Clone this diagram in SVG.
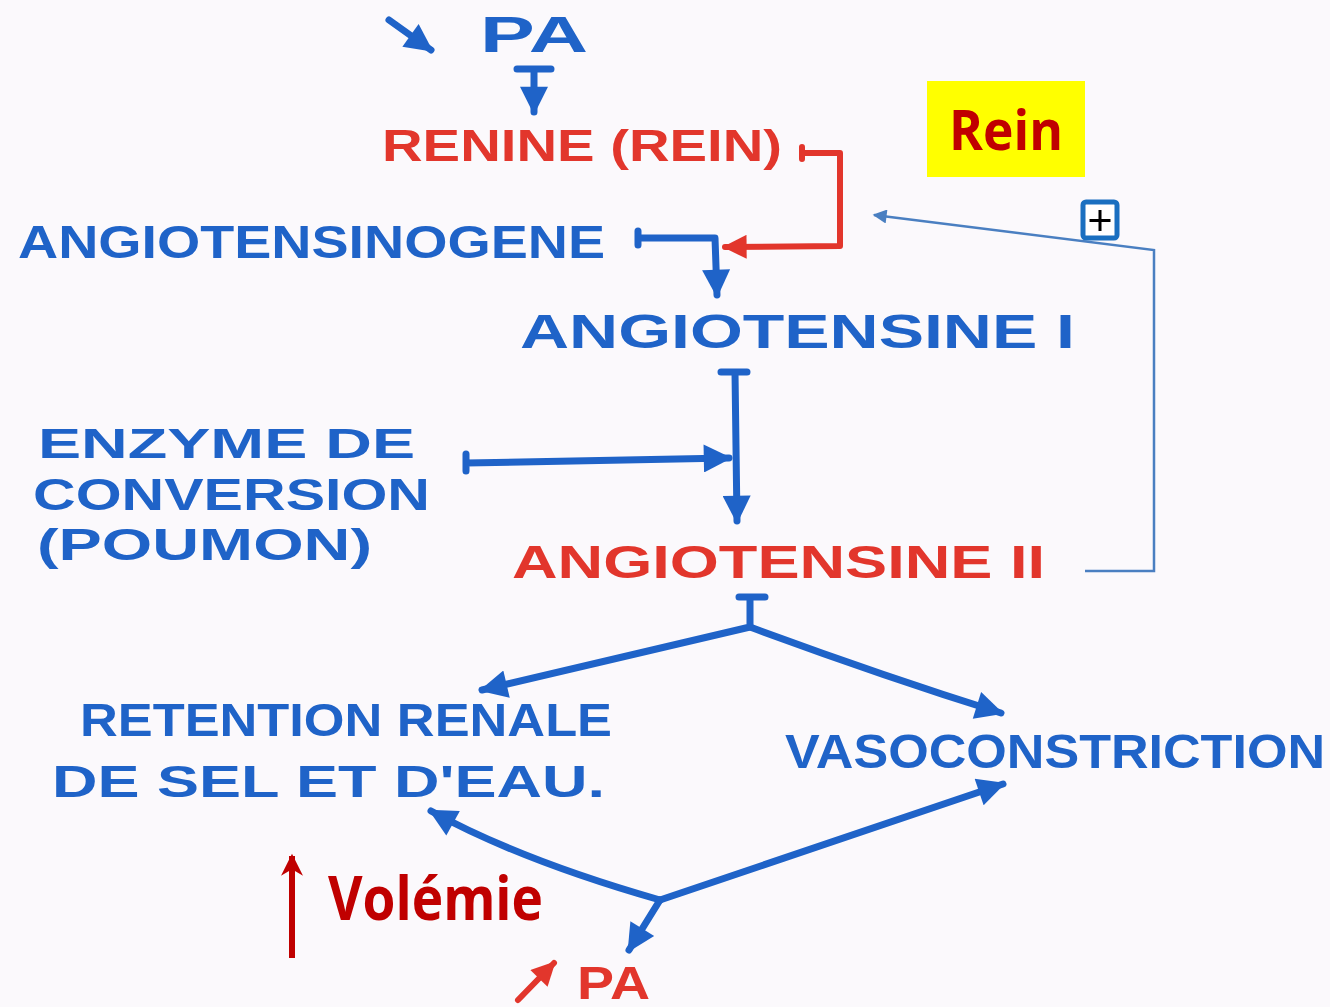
<svg xmlns="http://www.w3.org/2000/svg" width="1330" height="1007" viewBox="0 0 1330 1007">
<defs>
<style>
.hb{font-family:"Liberation Sans","DejaVu Sans",sans-serif;font-weight:bold;fill:#1f63c8;}
.hr{font-family:"Liberation Sans","DejaVu Sans",sans-serif;font-weight:bold;fill:#e2362c;}
.ink{fill:none;stroke:#1f63c8;stroke-width:7;stroke-linecap:round;stroke-linejoin:round;}
.inkr{fill:none;stroke:#e2362c;stroke-width:6;stroke-linecap:round;stroke-linejoin:round;}
.thin{fill:none;stroke:#4a7fc1;stroke-width:2.5;}
.cal{font-family:"Open Sans","Liberation Sans",sans-serif;font-weight:bold;fill:#c00000;}
</style>
<marker id="ab" viewBox="0 0 10 10" refX="9" refY="5" markerWidth="32" markerHeight="28" markerUnits="userSpaceOnUse" orient="auto"><path d="M0,0 L10,5 L0,10 Z" fill="#1f63c8"/></marker>
<marker id="ar" viewBox="0 0 10 10" refX="9" refY="5" markerWidth="30" markerHeight="24" markerUnits="userSpaceOnUse" orient="auto"><path d="M0,0 L10,5 L0,10 Z" fill="#e2362c"/></marker>
<marker id="at" viewBox="0 0 10 10" refX="9" refY="5" markerWidth="18" markerHeight="14" markerUnits="userSpaceOnUse" orient="auto"><path d="M0,0 L10,5 L0,10 Z" fill="#4a7fc1"/></marker>
<marker id="ad" viewBox="0 0 10 10" refX="9" refY="5" markerWidth="24" markerHeight="22" markerUnits="userSpaceOnUse" orient="auto"><path d="M0,0 L10,5 L0,10 L3,5 Z" fill="#c00000"/></marker>
</defs>
<rect width="1330" height="1007" fill="#fbf9fc"/>

<g id="connectors">
<path class="ink" d="M389,20 L431,50" marker-end="url(#ab)"/>
<path class="ink" d="M517,69 L551,69 M534,69 L534,112" marker-end="url(#ab)"/>
<path class="inkr" d="M802,147 L802,159 M802,153 L840,153 L840,246 L725,247" marker-end="url(#ar)"/>
<path class="ink" d="M638,231 L638,245 M638,238 L715,238 L717,295" marker-end="url(#ab)"/>
<path class="ink" d="M721,372 L747,372 M735,372 L737,521" marker-end="url(#ab)"/>
<path class="ink" d="M466,454 L466,471 M466,463 L729,458" marker-end="url(#ab)"/>
<path class="ink" d="M739,597 L765,597 M750,597 L750,627 L482,690" marker-end="url(#ab)"/>
<path class="ink" d="M750,627 Q880,675 1001,713" marker-end="url(#ab)"/>
<path class="ink" d="M660,900 Q520,860 431,811" marker-end="url(#ab)"/>
<path class="ink" d="M660,900 L1003,784" marker-end="url(#ab)"/>
<path class="ink" d="M660,900 L629,950" marker-end="url(#ab)"/>
<path class="thin" d="M1085,571 L1154,571 L1154,250 L874,215" marker-end="url(#at)"/>
<path class="inkr" d="M518,1000 L554,963" marker-end="url(#ar)"/>
<path d="M292,958 L292,856" stroke="#c00000" stroke-width="6" fill="none" marker-end="url(#ad)"/>
</g>

<g id="pa-top"><text class="hb" x="480" y="52" font-size="50" textLength="108" lengthAdjust="spacingAndGlyphs">PA</text></g>
<g id="renine"><text class="hr" x="382" y="161" font-size="44" textLength="400" lengthAdjust="spacingAndGlyphs">RENINE (REIN)</text></g>
<g id="rein-label">
<rect x="927" y="81" width="158" height="96" fill="#ffff00"/>
<text class="cal" x="1006" y="150" font-size="56" text-anchor="middle" textLength="114" lengthAdjust="spacingAndGlyphs">Rein</text>
</g>
<g id="plus">
<rect x="1083" y="202" width="34" height="36" rx="3" fill="#ffffff" stroke="#1a6fc0" stroke-width="5"/>
<path d="M1100,210 V231 M1089.5,220.5 H1110.5" stroke="#000" stroke-width="3"/>
</g>
<g id="angiotensinogene"><text class="hb" x="18" y="258" font-size="46" textLength="587" lengthAdjust="spacingAndGlyphs">ANGIOTENSINOGENE</text></g>
<g id="angiotensine1"><text class="hb" x="520" y="348" font-size="48" textLength="555" lengthAdjust="spacingAndGlyphs">ANGIOTENSINE  I</text></g>
<g id="enzyme">
<text class="hb" x="38" y="458" font-size="42" textLength="377" lengthAdjust="spacingAndGlyphs">ENZYME DE</text>
<text class="hb" x="33" y="510" font-size="44" textLength="397" lengthAdjust="spacingAndGlyphs">CONVERSION</text>
<text class="hb" x="37" y="560" font-size="44" textLength="335" lengthAdjust="spacingAndGlyphs">(POUMON)</text>
</g>
<g id="angiotensine2"><text class="hr" x="512" y="578" font-size="46" textLength="533" lengthAdjust="spacingAndGlyphs">ANGIOTENSINE  II</text></g>
<g id="retention">
<text class="hb" x="80" y="736" font-size="46" textLength="532" lengthAdjust="spacingAndGlyphs">RETENTION RENALE</text>
<text class="hb" x="52" y="797" font-size="44" textLength="553" lengthAdjust="spacingAndGlyphs">DE SEL ET D'EAU.</text>
</g>
<g id="vasoconstriction"><text class="hb" x="785" y="768" font-size="48" textLength="540" lengthAdjust="spacingAndGlyphs">VASOCONSTRICTION</text></g>
<g id="volemie"><text class="cal" x="328" y="920" font-size="60" textLength="215" lengthAdjust="spacingAndGlyphs">Volémie</text></g>
<g id="pa-bottom"><text class="hr" x="577" y="999" font-size="46" textLength="73" lengthAdjust="spacingAndGlyphs">PA</text></g>
</svg>
